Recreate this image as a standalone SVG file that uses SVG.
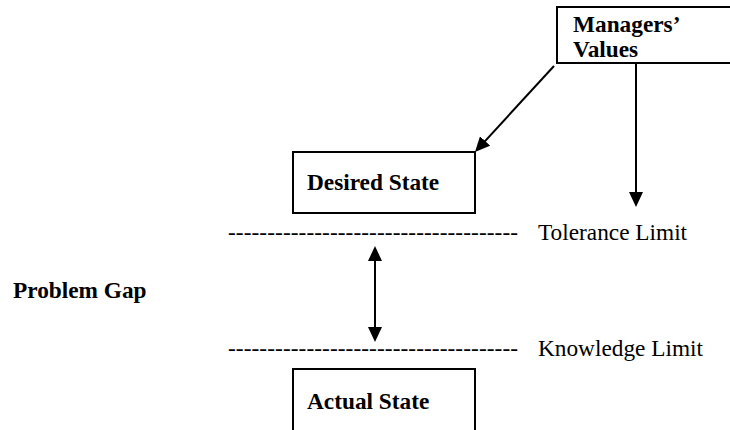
<svg xmlns="http://www.w3.org/2000/svg" width="730" height="430" viewBox="0 0 730 430">
<style>
.box{fill:#fff;stroke:#000;stroke-width:2}
.t{font-family:"Liberation Serif","Times New Roman",serif;font-size:23.3px;fill:#000}
.b{font-weight:bold}
.c{stroke:#000;stroke-width:2;fill:none}
</style>
<defs>
<marker id="ah" viewBox="0 0 15 14" refX="11" refY="7" markerWidth="15" markerHeight="14" markerUnits="userSpaceOnUse" orient="auto-start-reverse">
<path d="M0,0 L15,7 L0,14 z" fill="#000"/>
</marker>
</defs>
<rect width="730" height="430" fill="#fff"/>
<g id="managers-values">
<rect class="box" x="557" y="7" width="180" height="56"/>
<text class="t b" x="573" y="32">Managers’</text>
<text class="t b" x="573" y="57">Values</text>
</g>
<g id="desired-state">
<rect class="box" x="293" y="152" width="182" height="61"/>
<text class="t b" x="307" y="190">Desired State</text>
</g>
<g id="actual-state">
<rect class="box" x="293" y="369" width="182" height="80"/>
<text class="t b" x="307" y="409">Actual State</text>
</g>
<g id="tolerance-limit">
<text class="t" x="228" y="240" textLength="290" lengthAdjust="spacing">-------------------------------------</text>
<text class="t" x="538" y="240">Tolerance Limit</text>
</g>
<g id="knowledge-limit">
<text class="t" x="228" y="356" textLength="290" lengthAdjust="spacing">-------------------------------------</text>
<text class="t" x="538" y="356">Knowledge Limit</text>
</g>
<g id="problem-gap">
<text class="t b" x="13" y="298">Problem Gap</text>
</g>
<g id="connectors">
<line class="c" x1="554" y1="66" x2="477.7" y2="149.1" marker-end="url(#ah)"/>
<line class="c" x1="636" y1="64" x2="636" y2="203" marker-end="url(#ah)"/>
<line class="c" x1="375" y1="250" x2="375" y2="338" marker-start="url(#ah)" marker-end="url(#ah)"/>
</g>
</svg>
